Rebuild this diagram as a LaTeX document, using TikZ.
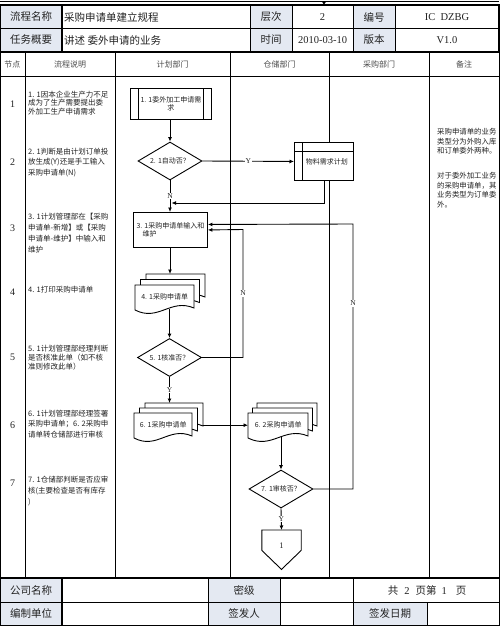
\documentclass[tikz,border=0pt]{standalone}
\usepackage{fontspec}
\setmainfont{Noto Sans CJK SC}
\newfontfamily\lat{Liberation Serif}
\usetikzlibrary{shapes.geometric,arrows.meta}
\definecolor{hdr}{RGB}{228,233,242}
\definecolor{txt}{RGB}{35,35,35}
\newcommand\fs[2]{\fontsize{#1}{#2}\selectfont}
\tikzset{
  gridl/.style={line width=0.8pt},
  boldl/.style={line width=1.8pt},
  flowl/.style={line width=0.9pt},
  arr/.style={flowl,-{Latex[length=4.5pt,width=4pt]}},
  lbl/.style={font=\lat\fs{7.5}{8}, fill=white, inner sep=0.8pt},
  hlab/.style={font=\fs{10.5}{12}},
  hval/.style={font=\fs{10.5}{12}, anchor=west},
  latv/.style={font=\lat\fs{10.5}{12}},
  lanehd/.style={font=\fs{8}{9}, text=black!70},
  rownum/.style={font=\lat\fs{10}{12}},
  desc/.style={font=\fs{7.5}{#1}, align=left, anchor=north west},
  remark/.style={font=\fs{7.4}{9.4}, align=left, anchor=north west},
  boxt/.style={font=\fs{7}{8.5}},
  dia/.style={diamond, draw, flowl, fill=white, aspect=1.7, minimum width=64pt, minimum height=38pt, font=\fs{7}{8.5}},
  pics/page/.style args={#1/#2}{code={\draw[flowl,fill=white] (0,0) -- (#1,0) -- (#1,#2-2) .. controls (0.6*#1,#2-12) and (0.4*#1,#2+12) .. (0,#2) -- cycle;}}
}
\begin{document}
\begin{tikzpicture}[x=1pt,y=-1pt, every node/.style={text=txt, inner sep=0pt}]
\useasboundingbox (0,0) rectangle (499,626);
\fill[white] (0,0) rectangle (499,626);

% ---------- top connector from previous page
\coordinate (ta) at (0,1.5);
\coordinate (tb) at (499,1.5);
\coordinate (tc) at (324,1.5);
\coordinate (td) at (324,5.5);
\draw[line width=1.2pt] (ta) -- (tb);
\draw[-{Latex[length=4pt,width=4pt]}] (tc) -- (td);

% ---------- header table
\fill[hdr] (0,5) rectangle (62,52);
\fill[hdr] (250,5) rectangle (292,52);
\fill[hdr] (353,5) rectangle (395,52);
\draw[gridl] (0,28) -- (499,28);
\draw[gridl] (250,5) -- (250,52) (292,5) -- (292,52) (353,5) -- (353,52) (395,5) -- (395,52);
\draw[boldl] (62,5) -- (62,52);
\draw[boldl] (0,5) rectangle (499,52);

\node[hlab] (h1) at (31,17) {流程名称};
\node[hlab] (h2) at (31,40) {任务概要};
\node[hval] (h3) at (64,17) {采购申请单建立规程};
\node[hval] (h4) at (64,40) {讲述 委外申请的业务};
\node[hlab] (h5) at (271,17) {层次};
\node[hlab] (h6) at (271,40) {时间};
\node[latv] (h7) at (322.5,17) {2};
\node[latv] (h8) at (322.5,40) {2010-03-10};
\node[hlab] (h9) at (374,17) {编号};
\node[hlab] (h10) at (374,40) {版本};
\node[latv] (h11) at (447,17) {IC\ \ DZBG};
\node[latv] (h12) at (447,40) {V1.0};

% ---------- swimlanes
\draw[gridl] (0,52) rectangle (499,578);
\draw[gridl] (0,76) -- (499,76);
\foreach \xx in {25,115,230,329,429} \draw[gridl] (\xx,52) -- (\xx,578);

\node[lanehd] (l1) at (12.5,64) {节点};
\node[lanehd] (l2) at (70,64) {流程说明};
\node[lanehd] (l3) at (172.5,64) {计划部门};
\node[lanehd] (l4) at (279.5,64) {仓储部门};
\node[lanehd] (l5) at (379,64) {采购部门};
\node[lanehd] (l6) at (464,64) {备注};

% row numbers
\node[rownum] (r1) at (12.5,104) {1};
\node[rownum] (r2) at (12.5,162) {2};
\node[rownum] (r3) at (12.5,228) {3};
\node[rownum] (r4) at (12.5,292) {4};
\node[rownum] (r5) at (12.5,357) {5};
\node[rownum] (r6) at (12.5,425) {6};
\node[rownum] (r7) at (12.5,483) {7};

% descriptions
\node[desc=8.8] (t1) at (28,90.5) {1. 1因本企业生产力不足\\成为了生产需要提出委\\外加工生产申请需求};
\node[desc=10.5] (t2) at (28,147.5) {2. 1判断是由计划订单投\\放生成(Y)还是手工输入\\采购申请单(N)};
\node[desc=11] (t3) at (28,212.5) {3. 1计划管理部在【采购\\申请单-新增】或【采购\\申请单-维护】中输入和\\维护};
\node[desc=10] (t4) at (28,285.5) {4. 1打印采购申请单};
\node[desc=9] (t5) at (28,344.5) {5. 1计划管理部经理判断\\是否核准此单（如不核\\准则修改此单）};
\node[desc=10.5] (t6) at (28,409.5) {6. 1计划管理部经理签署\\采购申请单；6. 2采购申\\请单转仓储部进行审核};
\node[desc=11] (t7) at (28,475.5) {7. 1仓储部判断是否应审\\核(主要检查是否有库存\\)};

% remarks
\node[remark] (m1) at (437,128.5) {采购申请单的业务\\类型分为外购入库\\和订单委外两种。};
\node[remark] (m2) at (437,172.5) {对于委外加工业务\\的采购申请单，其\\业务类型为订单委\\外。};

% ---------- flow shapes
\node[draw, flowl, fill=white, minimum width=81pt, minimum height=31pt, anchor=north west, boxt, align=center] (b11) at (130,88) {1. 1委外加工申请需\\求};
\draw[flowl] ([xshift=8pt]b11.north west) -- ([xshift=8pt]b11.south west);
\draw[flowl] ([xshift=-8pt]b11.north east) -- ([xshift=-8pt]b11.south east);

\node[dia] (d21) at (170,161) {2. 1自动否？};

\node[draw, flowl, fill=white, minimum width=59pt, minimum height=38pt, anchor=north west, boxt] (mrp) at (294,142) {\hspace{6pt}物料需求计划};
\draw[flowl] ([yshift=-9pt]mrp.north west) -- ([yshift=-9pt]mrp.north east);
\draw[flowl] ([xshift=8pt]mrp.north west) -- ([xshift=8pt]mrp.south west);

\node[draw, flowl, fill=white, minimum width=74pt, minimum height=35pt, anchor=north west, boxt, align=left] (b31) at (133,212) {3. 1采购申请单输入和\\\hspace{6pt}维护};

\pic at (146,274) {page=59/25};
\pic at (140.5,279.5) {page=59/25};
\pic at (135,285) {page=59/25};
\node[boxt, minimum width=59pt, minimum height=24pt, anchor=north west] (d41) at (135,285) {4. 1采购申请单};

\node[dia] (d51) at (169.5,357.5) {5. 1核准否？};

\pic at (145,403) {page=58/25};
\pic at (139.5,408) {page=58/25};
\pic at (134,413) {page=58/25};
\node[boxt, minimum width=58pt, minimum height=24pt, anchor=north west] (d61) at (134,413) {6. 1采购申请单};

\pic at (257,403) {page=60/25};
\pic at (252.5,408) {page=60/25};
\pic at (248,413) {page=60/25};
\node[boxt, minimum width=60pt, minimum height=24pt, anchor=north west] (d62) at (248,413) {6. 2采购申请单};

\node[dia] (d71) at (281,489) {7. 1审核否？};

\node[minimum width=39pt, minimum height=20pt, anchor=north] (op) at (281.5,530) {};
\draw[flowl, fill=white] (op.north west) -- (op.north east) -- (op.south east) -- ([yshift=-19pt]op.south) -- (op.south west) -- cycle;
\node[font=\lat\fs{8.5}{9}] (opt) at (281.5,546) {1};

% ---------- connectors
\coordinate (j1) at (171.5,203);
\coordinate (t41) at (170,274);
\coordinate (t61) at (169.5,403);
\coordinate (k1) at (243,357.5);
\coordinate (k2) at (243,229.5);
\coordinate (k3) at (353,489);
\coordinate (k4) at (353,224);

\draw[arr] (b11.south -| d21.north) -- (d21.north);
\draw[arr] (d21.east) -- node[lbl]{Y} (mrp.west);
\draw[arr] (d21.south) -- node[lbl]{N} (b31.north -| d21.south);
\draw[arr] (mrp.south) |- (j1);
\draw[arr] (b31.south -| t41) -- (t41);
\draw[arr] (d41.south -| d51.north) -- (d51.north);
\draw[arr] (d51.south) -- node[lbl]{Y} (t61);
\draw[arr] ([xshift=11pt]d61.east) -- (d62.west);
\draw[arr] (d62.south -| d71.north) -- (d71.north);
\draw[arr] (d71.south) -- node[lbl]{Y} (op.north);
\draw[arr] (d51.east) -- (k1) -- node[lbl]{N} (k2) -- (b31.east);
\draw[arr] (d71.east) -- (k3) -- node[lbl,pos=0.7]{N} (k4) -- ([yshift=5.5pt]b31.east);

% ---------- footer
\fill[hdr] (0,578) rectangle (62,625);
\fill[hdr] (208,578) rectangle (280,625);
\fill[hdr] (353,602) rectangle (427,625);
\draw[gridl] (0,602) -- (499,602);
\draw[gridl] (208,578) -- (208,625) (280,578) -- (280,625) (353,578) -- (353,625) (427,602) -- (427,625);
\draw[boldl] (62,578) -- (62,625);
\draw[boldl] (0,578) -- (499,578);
\draw[gridl] (0,578) rectangle (499,625);

\node[hlab] (f1) at (31,590) {公司名称};
\node[hlab] (f2) at (31,613.5) {编制单位};
\node[hlab] (f3) at (244,590) {密级};
\node[hlab] (f4) at (244,613.5) {签发人};
\node[hlab] (f5) at (427,590) {共\hspace{6pt}{\lat 2}\hspace{6pt}页第\hspace{5pt}{\lat 1}\hspace{9pt}页};
\node[hlab] (f6) at (390,613.5) {签发日期};
\end{tikzpicture}
\end{document}
